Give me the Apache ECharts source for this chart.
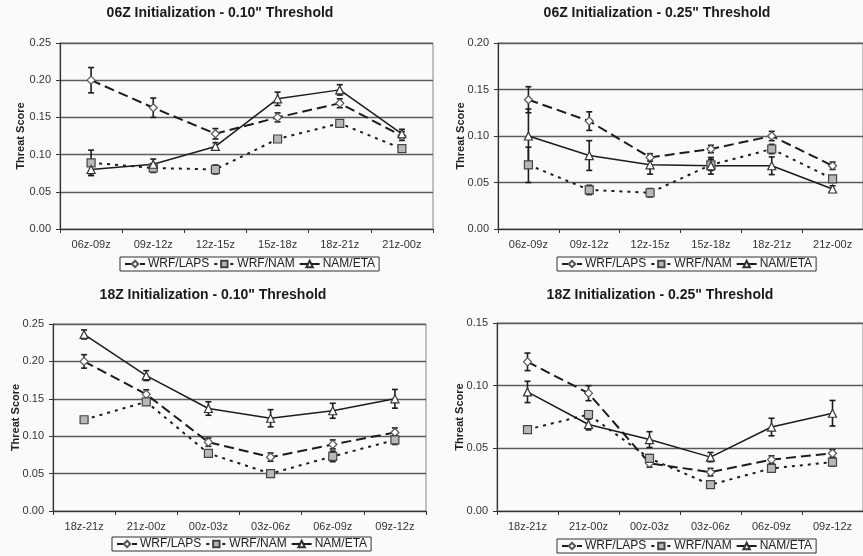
<!DOCTYPE html>
<html>
<head>
<meta charset="utf-8">
<script src="https://cdn.jsdelivr.net/npm/echarts@6/dist/echarts.min.js"></script>
<style>
html,body{margin:0;padding:0;background:#fafafa;}
#c{width:863px;height:556px;}
</style>
</head>
<body>
<div id="c"></div>
<script>
// ---- Data ----
const categories06 = ['06z-09z','09z-12z','12z-15z','15z-18z','18z-21z','21z-00z'];
const categories18 = ['18z-21z','21z-00z','00z-03z','03z-06z','06z-09z','09z-12z'];
const titles = ['06Z Initialization - 0.10" Threshold','06Z Initialization - 0.25" Threshold','18Z Initialization - 0.10" Threshold','18Z Initialization - 0.25" Threshold'];
const seriesNames = ['WRF/LAPS','WRF/NAM','NAM/ETA'];
const yMax = [0.25, 0.20, 0.25, 0.15];

// Panel 1: 06Z, 0.10"
const p1Laps = [0.200, 0.163, 0.128, 0.150, 0.169, 0.125];
const p1LapsErr = [0.017, 0.013, 0.007, 0.006, 0.006, 0.006];
const p1Nam = [0.089, 0.082, 0.080, 0.121, 0.142, 0.108];
const p1NamErr = [0.017, 0.006, 0.006, 0.004, 0.004, 0.003];
const p1Eta = [0.080, 0.087, 0.111, 0.175, 0.187, 0.128];
const p1EtaErr = [0.008, 0.007, 0.005, 0.009, 0.007, 0.006];

// Panel 2: 06Z, 0.25"
const p2Laps = [0.139, 0.116, 0.077, 0.086, 0.100, 0.068];
const p2LapsErr = [0.014, 0.010, 0.004, 0.004, 0.005, 0.004];
const p2Nam = [0.069, 0.042, 0.039, 0.069, 0.086, 0.054];
const p2NamErr = [0.019, 0.005, 0.0045, 0.006, 0.005, 0.003];
const p2Eta = [0.100, 0.079, 0.069, 0.068, 0.068, 0.043];
const p2EtaErr = [0.029, 0.016, 0.010, 0.009, 0.0095, 0.0035];

// Panel 3: 18Z, 0.10"
const p3Laps = [0.200, 0.156, 0.092, 0.072, 0.089, 0.105];
const p3LapsErr = [0.009, 0.006, 0.0055, 0.0055, 0.006, 0.006];
const p3Nam = [0.122, 0.146, 0.077, 0.050, 0.073, 0.095];
const p3NamErr = [0.002, 0.003, 0.004, 0.002, 0.007, 0.006];
const p3Eta = [0.236, 0.181, 0.137, 0.124, 0.134, 0.150];
const p3EtaErr = [0.006, 0.0066, 0.009, 0.0115, 0.010, 0.0125];

// Panel 4: 18Z, 0.25"
const p4Laps = [0.119, 0.094, 0.038, 0.031, 0.041, 0.046];
const p4LapsErr = [0.007, 0.006, 0.003, 0.003, 0.003, 0.003];
const p4Nam = [0.065, 0.077, 0.042, 0.021, 0.034, 0.039];
const p4NamErr = [0.002, 0.003, 0.003, 0.002, 0.003, 0.003];
const p4Eta = [0.095, 0.069, 0.057, 0.043, 0.067, 0.078];
const p4EtaErr = [0.0085, 0.0043, 0.0063, 0.0037, 0.007, 0.0102];

const panels = [
  {cats: categories06, laps: p1Laps, lapsErr: p1LapsErr, nam: p1Nam, namErr: p1NamErr, eta: p1Eta, etaErr: p1EtaErr},
  {cats: categories06, laps: p2Laps, lapsErr: p2LapsErr, nam: p2Nam, namErr: p2NamErr, eta: p2Eta, etaErr: p2EtaErr},
  {cats: categories18, laps: p3Laps, lapsErr: p3LapsErr, nam: p3Nam, namErr: p3NamErr, eta: p3Eta, etaErr: p3EtaErr},
  {cats: categories18, laps: p4Laps, lapsErr: p4LapsErr, nam: p4Nam, namErr: p4NamErr, eta: p4Eta, etaErr: p4EtaErr}
];

// ---- Layout / style ----
const gridPos = [
  {left: 60, top: 43, width: 373, height: 186},
  {left: 498, top: 43, width: 374, height: 186},
  {left: 53, top: 324, width: 373, height: 187},
  {left: 497, top: 323, width: 373, height: 188}
];
const titlePos = [[220, 6], [657, 6], [213, 288], [660, 288]];
const legendPos = [[120, 257], [557, 257], [112, 537], [557, 539]];
const nameGaps = [34, 32, 32, 32];
const FONT = 'Liberation Sans, Arial, sans-serif';
const LINE = '#1c1c1c';

const styles = {
  'WRF/LAPS': {symbol: 'diamond', symbolSize: 8, fill: '#ffffff', border: '#555', lineType: [10, 5], lineWidth: 2},
  'WRF/NAM': {symbol: 'rect', symbolSize: 8, fill: '#b8b8b8', border: '#444', lineType: [3, 5], lineWidth: 2},
  'NAM/ETA': {symbol: 'triangle', symbolSize: 8, fill: '#ffffff', border: '#333', lineType: 'solid', lineWidth: 1.5}
};

function errRender(params, api) {
  const x = api.value(0);
  const c = api.value(1), e = api.value(2);
  const hi = api.coord([x, c + e]);
  const lo = api.coord([x, c - e]);
  const w = 3;
  const st = {stroke: LINE, lineWidth: 1.6};
  return {
    type: 'group',
    children: [
      {type: 'line', shape: {x1: hi[0], y1: hi[1], x2: lo[0], y2: lo[1]}, style: st},
      {type: 'line', shape: {x1: hi[0] - w, y1: hi[1], x2: hi[0] + w, y2: hi[1]}, style: st},
      {type: 'line', shape: {x1: lo[0] - w, y1: lo[1], x2: lo[0] + w, y2: lo[1]}, style: st}
    ]
  };
}

const option = {
  backgroundColor: '#fafafa',
  animation: false,
  title: [], legend: [], grid: [], xAxis: [], yAxis: [], series: []
};

panels.forEach((p, i) => {
  option.title.push({
    text: titles[i], left: titlePos[i][0], top: titlePos[i][1], textAlign: 'center', padding: 0,
    textStyle: {fontFamily: FONT, fontSize: 14, fontWeight: 'bold', color: '#1a1a1a'}
  });
  option.legend.push({
    data: seriesNames, left: legendPos[i][0], top: legendPos[i][1],
    orient: 'horizontal', itemWidth: 20, itemHeight: 8, itemGap: 4,
    padding: [1, 4, 1, 4], borderColor: '#333', borderWidth: 1,
    textStyle: {fontFamily: FONT, fontSize: 12, color: '#222', padding: [0, 0, 0, -2]},
    selectedMode: false
  });
  option.grid.push(Object.assign({show: true, borderColor: '#888', borderWidth: 1, backgroundColor: 'transparent'}, gridPos[i]));
  option.xAxis.push({
    type: 'category', gridIndex: i, data: p.cats, boundaryGap: true,
    axisLine: {lineStyle: {color: '#333', width: 1.2}},
    axisTick: {show: true, inside: false, length: 4, alignWithLabel: false, lineStyle: {color: '#333'}},
    axisLabel: {fontFamily: FONT, fontSize: 11, color: '#333', margin: 10, interval: 0},
    splitLine: {show: false}
  });
  option.yAxis.push({
    type: 'value', gridIndex: i, min: 0, max: yMax[i], interval: 0.05,
    name: 'Threat Score', nameLocation: 'middle', nameGap: nameGaps[i], nameMoveOverlap: false,
    nameTextStyle: {fontFamily: FONT, fontSize: 11, fontWeight: 'bold', color: '#222'},
    axisLine: {show: true, lineStyle: {color: '#333', width: 1.2}},
    axisTick: {show: true, inside: false, length: 4, lineStyle: {color: '#333'}},
    axisLabel: {fontFamily: FONT, fontSize: 11, color: '#333', margin: 9, formatter: v => v.toFixed(2)},
    splitLine: {show: true, lineStyle: {color: '#5c5c5c', width: 1.3}}
  });
  const vals = {'WRF/LAPS': [p.laps, p.lapsErr], 'WRF/NAM': [p.nam, p.namErr], 'NAM/ETA': [p.eta, p.etaErr]};
  seriesNames.forEach(name => {
    const [v, e] = vals[name];
    option.series.push({
      type: 'custom', name: 'err-' + name, xAxisIndex: i, yAxisIndex: i, z: 2,
      renderItem: errRender, data: v.map((val, k) => [k, val, e[k]]), silent: true
    });
  });
  seriesNames.forEach(name => {
    const s = styles[name];
    option.series.push({
      type: 'line', name: name, xAxisIndex: i, yAxisIndex: i, z: 5,
      data: vals[name][0],
      symbol: s.symbol, symbolSize: s.symbolSize, showSymbol: true,
      lineStyle: {color: LINE, width: s.lineWidth, type: s.lineType},
      itemStyle: {color: s.fill, borderColor: s.border, borderWidth: 1.2},
      emphasis: {disabled: true}
    });
  });
});

const chart = echarts.init(document.getElementById('c'), null, {renderer: 'canvas'});
chart.setOption(option);
</script>
</body>
</html>
